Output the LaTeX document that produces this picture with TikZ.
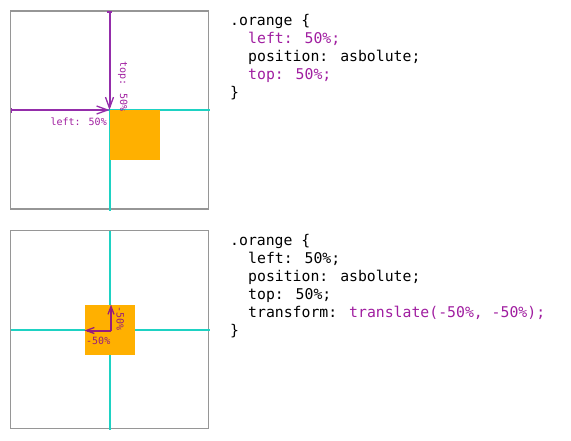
\documentclass[tikz,border=0pt]{standalone}
\usepackage{fontspec}
\newfontfamily\mono{DejaVu Sans Mono}
\usetikzlibrary{arrows.meta}
\definecolor{grayline}{RGB}{150,150,150}
\definecolor{cyanline}{RGB}{30,210,195}
\definecolor{orangesq}{RGB}{255,176,0}
\definecolor{purplearr}{RGB}{148,45,170}
\definecolor{purpletxt}{RGB}{160,30,160}
\definecolor{purpledark}{RGB}{150,30,125}
\tikzset{
  frame/.style={draw=grayline,line width=1.3pt,minimum size=198pt,inner sep=0pt,outer sep=0pt},
  sq/.style={fill=orangesq,minimum size=50pt,inner sep=0pt,outer sep=0pt},
  guide/.style={draw=cyanline,line width=2pt},
  arrbar/.style={draw=purplearr,line width=2pt,{Bar[width=5pt,line width=1.6pt]}-{Straight Barb[length=11pt,width=8pt,line width=1.3pt]}},
  arrsmall/.style={draw=purpledark,line width=2pt,-{Straight Barb[length=8pt,width=6pt,line width=1.3pt]}},
  code/.style={font=\mono\fontsize{14.8}{18}\selectfont,inner sep=0pt,anchor=base west},
  lbl/.style={font=\mono\fontsize{10}{12}\selectfont,inner sep=0pt,text=purpletxt},
}
\begin{document}
\begin{tikzpicture}[x=1pt,y=-1pt]
\useasboundingbox (0,0) rectangle (571,440);
% ---------- top panel ----------
\node[frame] (b1) at (109.5,110) {};
\coordinate (c1) at (b1.center);
\coordinate (h1e) at ([xshift=1pt]b1.east);
\coordinate (v1s) at ([yshift=-1.5pt]b1.south);
\draw[guide] (b1.west) -- (h1e);
\draw[guide] (c1) -- (v1s);
\node[sq,anchor=north west] (o1) at (c1) {};
\draw[arrbar] (b1.north) -- (c1);
\draw[arrbar] (b1.west) -- (c1);
\node[lbl,anchor=base east] (l1) at (107,125.5) {left: 50\%};
\node[lbl,anchor=base west,rotate=-90] (t1) at (120,61) {top: 50\%};
% code top
\node[code] (a1) at (230,25) {.orange \{};
\node[code,text=purpletxt] (a2) at (248,43) {left: 50\%;};
\node[code] (a3) at (248,61) {position: asbolute;};
\node[code,text=purpletxt] (a4) at (248,79) {top: 50\%;};
\node[code] (a5) at (230,97) {\}};
% ---------- bottom panel ----------
\node[frame] (b2) at (109.5,329.5) {};
\coordinate (c2) at (b2.center);
\coordinate (h2e) at ([xshift=1pt]b2.east);
\coordinate (v2s) at ([yshift=-1.5pt]b2.south);
\draw[guide] (b2.west) -- (h2e);
\draw[guide] (b2.north) -- (v2s);
\node[sq] (o2) at (c2) {};
\coordinate (c2a) at ([xshift=1.5pt,yshift=-1pt]c2);
\draw[arrsmall] (c2a) -- (o2.north -| c2a);
\draw[arrsmall] (c2a) -- (o2.west |- c2a);
\node[lbl,anchor=base west,text=purpledark] (l2) at (86,344) {-50\%};
\node[lbl,anchor=base west,rotate=-90,text=purpledark] (t2) at (116.5,306.5) {-50\%};
% code bottom
\node[code] (d1) at (230,245) {.orange \{};
\node[code] (d2) at (248,263) {left: 50\%;};
\node[code] (d3) at (248,281) {position: asbolute;};
\node[code] (d4) at (248,299) {top: 50\%;};
\node[code] (d5) at (248,317) {transform: \textcolor{purpletxt}{translate(-50\%, -50\%);}};
\node[code] (d6) at (230,335) {\}};
\end{tikzpicture}
\end{document}
